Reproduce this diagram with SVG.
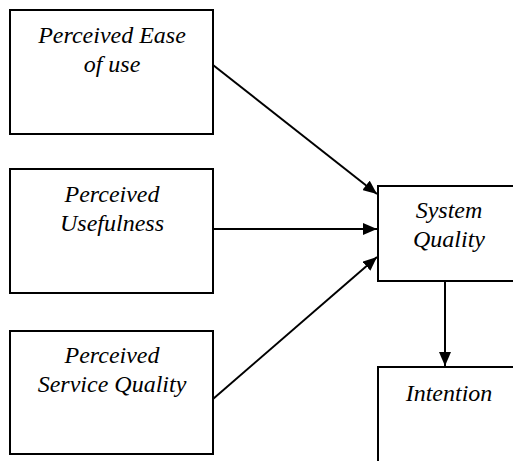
<svg xmlns="http://www.w3.org/2000/svg" width="513" height="461" viewBox="0 0 513 461">
<style>
.box{fill:#fff;stroke:#000;stroke-width:2}
.lbl{font-family:"Liberation Serif","Times New Roman",serif;font-style:italic;font-size:24px;fill:#000;text-anchor:middle}
.con{stroke:#000;stroke-width:2;fill:none;marker-end:url(#ah)}
</style>
<defs>
<marker id="ah" viewBox="0 0 14 12" refX="14" refY="6" markerWidth="14" markerHeight="12" markerUnits="userSpaceOnUse" orient="auto">
<path d="M0,0 L14,6 L0,12 Z" fill="#000"/>
</marker>
</defs>
<rect width="513" height="461" fill="#fff"/>
<g id="connectors">
<line class="con" x1="213" y1="65" x2="377" y2="194"/>
<line class="con" x1="213" y1="229" x2="377" y2="229"/>
<line class="con" x1="213" y1="399" x2="377" y2="257"/>
<line class="con" x1="445" y1="281" x2="445" y2="366"/>
</g>
<g id="peou">
<rect class="box" x="10" y="10" width="203" height="124"/>
<text class="lbl" x="112" y="43">Perceived Ease</text>
<text class="lbl" x="112" y="72">of use</text>
</g>
<g id="pu">
<rect class="box" x="10" y="169" width="203" height="124"/>
<text class="lbl" x="112" y="202">Perceived</text>
<text class="lbl" x="112" y="231">Usefulness</text>
</g>
<g id="psq">
<rect class="box" x="10" y="331" width="203" height="123"/>
<text class="lbl" x="112" y="363">Perceived</text>
<text class="lbl" x="112" y="392">Service Quality</text>
</g>
<g id="sq">
<rect class="box" x="378" y="186" width="142" height="95"/>
<text class="lbl" x="449" y="218">System</text>
<text class="lbl" x="449" y="247">Quality</text>
</g>
<g id="intention">
<rect class="box" x="378" y="367" width="142" height="110"/>
<text class="lbl" x="449" y="401">Intention</text>
</g>
</svg>
